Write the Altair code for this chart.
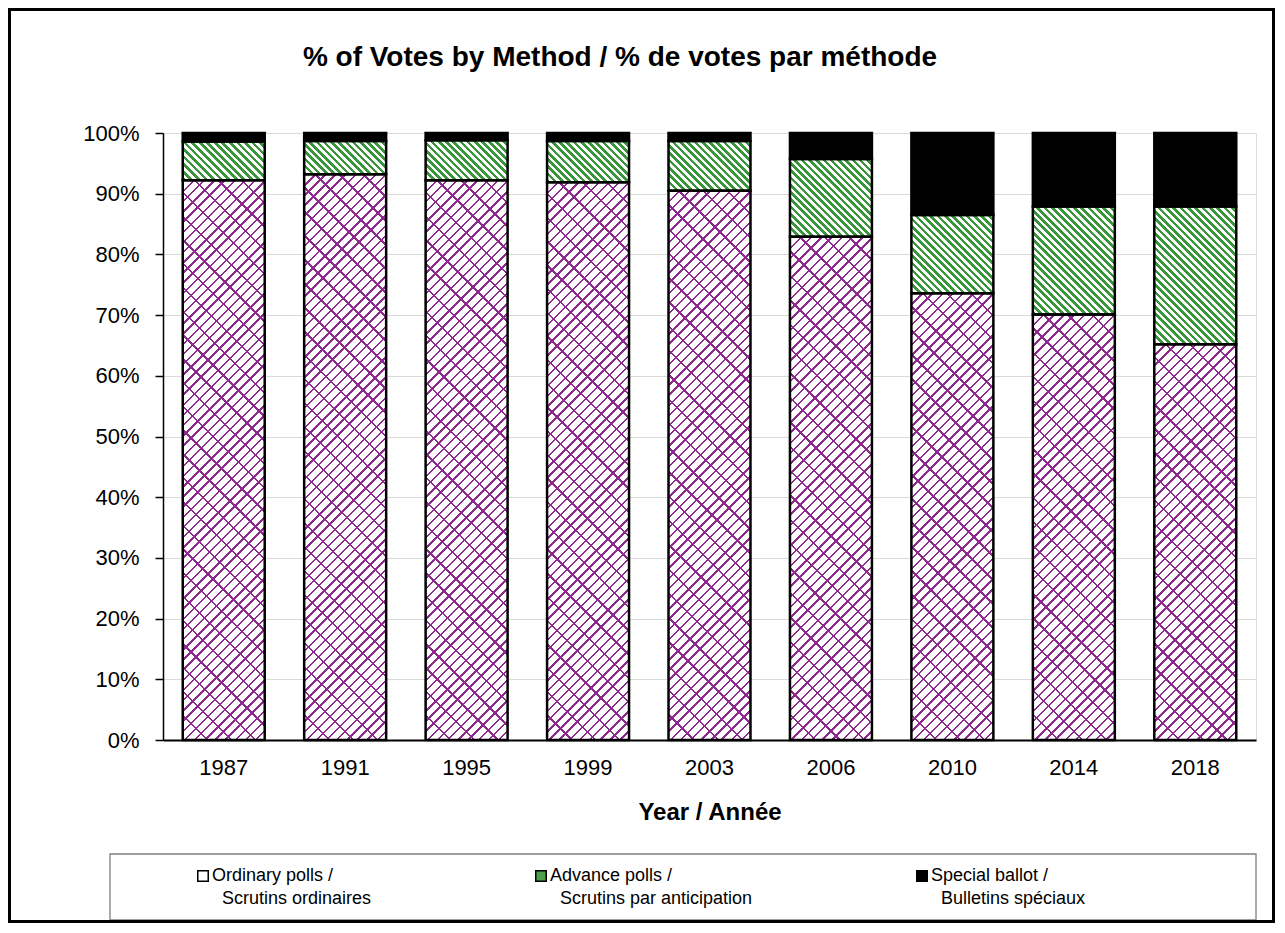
import math
import altair as alt

# ---- data (percent of votes) ----
years = ["1987", "1991", "1995", "1999", "2003", "2006", "2010", "2014", "2018"]
ordinary = [92.2, 93.2, 92.2, 91.9, 90.5, 82.9, 73.6, 70.1, 65.2]
advance = [6.4, 5.5, 6.6, 6.8, 8.2, 12.8, 12.9, 17.8, 22.7]
special = [1.4, 1.3, 1.2, 1.3, 1.3, 4.3, 13.5, 12.1, 12.1]
methods = [
    "Ordinary polls /\nScrutins ordinaires",
    "Advance polls /\nScrutins par anticipation",
    "Special ballot /\nBulletins spéciaux",
]
title_text = "% of Votes by Method / % de votes par méthode"
x_title = "Year / Année"

# ---- layout ----
PLOT_W, PLOT_H = 1093, 607
PAD_INNER = 0.325
BAND_W = PLOT_W / len(years) * (1 - PAD_INNER)
FONT = "Liberation Sans"

PURPLE = "#8e2a8e"
GREEN = "#3a963a"
CLEAR = "rgba(255,255,255,0)"


def stripes(w, h, color_a, color_b, period, frac, direction):
    """Linear gradient (bounding-box units) that draws 45-degree stripes."""
    k = (w + h) / (w * w + h * h)
    if direction == "/":
        x1, y1, x2, y2 = 0, 0, k * w, k * h
    else:
        x1, y1, x2, y2 = 0, 1, k * w, 1 - k * h
    ext = (w + h) / math.sqrt(2)
    n = max(1, int(round(ext / period)))
    stops = []
    for i in range(n):
        a, b, c = i / n, (i + frac) / n, (i + 1) / n
        stops += [
            {"offset": a, "color": color_a},
            {"offset": b, "color": color_a},
            {"offset": b, "color": color_b},
            {"offset": c, "color": color_b},
        ]
    return {"gradient": "linear", "x1": x1, "y1": y1, "x2": x2, "y2": y2, "stops": stops}


records = []
for i, yr in enumerate(years):
    for j, vals in enumerate([ordinary, advance, special]):
        v = vals[i]
        h = v / 100 * PLOT_H
        rec = {"year": yr, "method": methods[j], "order": j, "value": v, "gA": None, "gB": None}
        if j == 0:
            rec["gA"] = stripes(BAND_W, h, PURPLE, "white", 7.2, 0.24, "/")
            rec["gB"] = stripes(BAND_W, h, PURPLE, CLEAR, 17.0, 0.1, "\\")
        elif j == 1:
            rec["gA"] = stripes(BAND_W, h, GREEN, "white", 5.2, 0.5, "\\")
        records.append(rec)

data = alt.Data(values=records)

x_enc = alt.X(
    "year:O",
    sort=years,
    scale=alt.Scale(paddingInner=PAD_INNER, paddingOuter=PAD_INNER / 2),
    axis=alt.Axis(
        title=x_title, labelAngle=0, ticks=False, tickSize=0, grid=False,
        domainColor="black", domainWidth=2, labelPadding=17, labelFontSize=22,
        labelColor="black", labelFont=FONT, titleFont=FONT, titleFontSize=24,
        titleFontWeight="bold", titleColor="black", titlePadding=22,
    ),
)
y_enc = alt.Y(
    "y0:Q",
    scale=alt.Scale(domain=[0, 100], nice=False),
    axis=alt.Axis(
        title=None, values=list(range(0, 101, 10)), labelExpr="datum.value + '%'",
        domainColor="black", domainWidth=1.5, tickColor="black", tickSize=8,
        tickWidth=1.5, labelPadding=16, labelFontSize=22, labelColor="black",
        labelFont=FONT, gridColor="#d9d9d9", gridWidth=1,
    ),
)


def stacked():
    return alt.Chart(data).transform_stack(
        stack="value", groupby=["year"], sort=[alt.SortField("order")], as_=["y0", "y1"]
    )


base = stacked().mark_bar(strokeWidth=0).encode(
    x=x_enc,
    y=y_enc,
    y2="y1:Q",
    color=alt.Color(
        "method:N",
        scale=alt.Scale(domain=methods, range=["white", "#4e9f4e", "black"]),
        legend=alt.Legend(
            orient="none", legendX=31, legendY=734, direction="horizontal",
            columns=3, columnPadding=160, padding=0, title=None,
            labelExpr="[split(datum.label, '\\n')[0], '\u200b\u00a0\u00a0' + split(datum.label, '\\n')[1]]",
            labelFontSize=18, labelFont=FONT, labelLimit=400, labelColor="black",
            symbolType="square", symbolSize=110, symbolStrokeColor="black",
            symbolStrokeWidth=1.5, labelOffset=0,
        ),
    ),
)

pat_a = stacked().transform_filter("datum.order < 2").mark_bar(strokeWidth=0).encode(
    x=x_enc, y=y_enc, y2="y1:Q",
    fill=alt.Fill("gA:N", scale=None, legend=None),
)
pat_b = stacked().transform_filter("datum.order == 0").mark_bar(strokeWidth=0).encode(
    x=x_enc, y=y_enc, y2="y1:Q",
    fill=alt.Fill("gB:N", scale=None, legend=None),
)
outline = stacked().mark_bar(fillOpacity=0, stroke="black", strokeWidth=2.5).encode(
    x=x_enc, y=y_enc, y2="y1:Q",
)

one = alt.Data(values=[{"t": title_text}])
title = alt.Chart(one).mark_text(
    font=FONT, fontSize=28, fontWeight="bold", align="center", baseline="middle", color="black"
).encode(text="t:N", x=alt.value(457), y=alt.value(-75))

legend_box = alt.Chart(one).mark_rect(fillOpacity=0, stroke="#7f7f7f", strokeWidth=1.3).encode(
    x=alt.value(-53), x2=alt.value(1093), y=alt.value(721), y2=alt.value(787)
)
border = alt.Chart(one).mark_rect(fillOpacity=0, stroke="black", strokeWidth=3).encode(
    x=alt.value(-153.5), x2=alt.value(1110.5), y=alt.value(-123.5), y2=alt.value(788.5)
)

chart = alt.layer(base, pat_a, pat_b, outline, legend_box, border, title).properties(
    width=PLOT_W,
    height=PLOT_H,
    autosize=alt.AutoSizeParams(type="none"),
    padding={"left": 155, "top": 125, "right": 20, "bottom": 183},
    background="white",
).configure_view(stroke="#8c8c8c", strokeWidth=1).configure(
    font=FONT, style={"guide-label": {"lineHeight": 23}}
)

chart.save("out.html", embed_options={"renderer": "svg", "actions": False})
